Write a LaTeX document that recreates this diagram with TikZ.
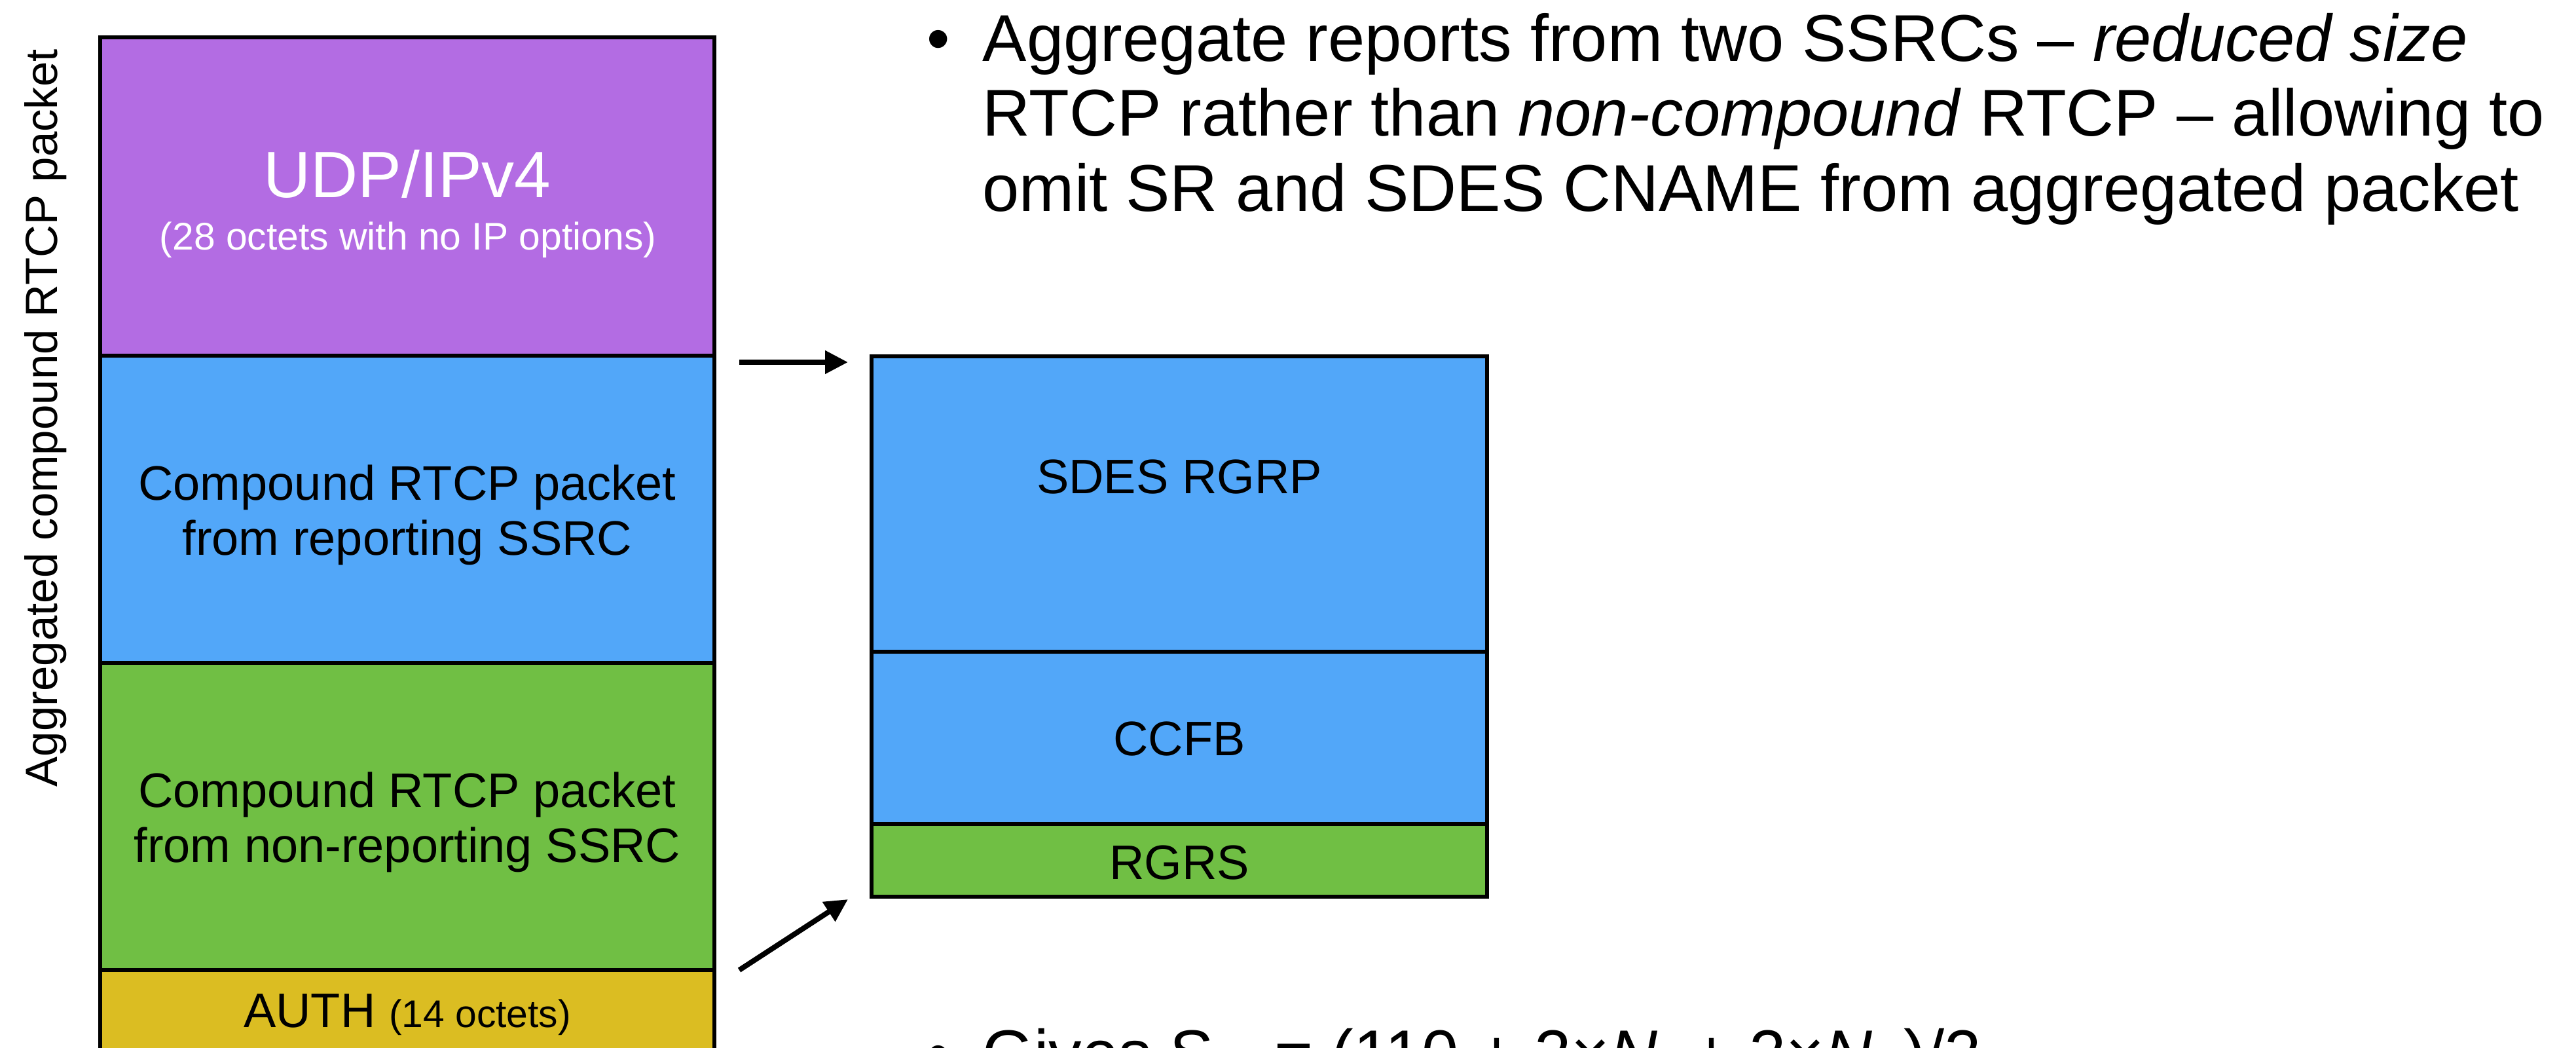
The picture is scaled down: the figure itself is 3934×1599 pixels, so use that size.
\documentclass[tikz,border=0pt]{standalone}
\usepackage{fontspec}
\setmainfont{Liberation Sans}
\usetikzlibrary{arrows.meta}
\definecolor{cpurple}{HTML}{B36CE3}
\definecolor{cblue}{HTML}{52A7F9}
\definecolor{cgreen}{HTML}{70BF44}
\definecolor{cgold}{HTML}{DBBD22}
\begin{document}
\begin{tikzpicture}[x=0.25pt,y=-0.25pt,
  blk/.style={draw=black, line width=1.3pt, inner sep=0pt, outer sep=0pt, anchor=north west, minimum width=234.5pt},
  rblk/.style={blk, minimum width=235pt},
  lbl/.style={inner sep=0pt, anchor=base, font=\fontsize{18.5pt}{21pt}\selectfont},
  small/.style={inner sep=0pt, anchor=base, font=\fontsize{14.7pt}{17pt}\selectfont},
  big/.style={inner sep=0pt, anchor=base west, font=\fontsize{25.25pt}{28.6pt}\selectfont},
  bul/.style={inner sep=0pt, anchor=base, font=\fontsize{25.25pt}{28.6pt}\selectfont},
  arr/.style={-{Triangle[length=8.75pt,width=8.5pt]}, line width=2pt}
]
\path[use as bounding box] (0,0) rectangle (3934,1599);
\clip (0,0) rectangle (3934,1599);
\fill[white] (0,0) rectangle (3934,1599);

% left stack
\node[blk, fill=cpurple, minimum height=121.5pt] (udp) at (153,57) {};
\node[blk, fill=cblue, minimum height=117.25pt] (rep) at (153,543) {};
\node[blk, fill=cgreen, minimum height=117.25pt] (nonrep) at (153,1012) {};
\node[blk, fill=cgold, minimum height=62.5pt] (auth) at (153,1481) {};

\node[inner sep=0pt, anchor=base, text=white, font=\fontsize{25pt}{28pt}\selectfont] (udpt) at (622,301) {UDP/IPv4};
\node[small, text=white] (udps) at (623,381) {(28 octets with no IP options)};
\node[lbl] (rep1) at (622,763) {Compound RTCP packet};
\node[lbl] (rep2) at (622,847) {from reporting SSRC};
\node[lbl] (non1) at (622,1232) {Compound RTCP packet};
\node[lbl] (non2) at (622,1316) {from non-reporting SSRC};
\node[lbl] (autht) at (622,1568) {AUTH {\fontsize{14.7pt}{17pt}\selectfont (14 octets)}};

\node[rotate=90, anchor=base, inner sep=0pt, font=\fontsize{17.25pt}{20pt}\selectfont] (side) at (87,638) {Aggregated compound RTCP packet};

% right stack
\node[rblk, fill=cblue, minimum height=112.75pt] (sdes) at (1331,544) {};
\node[rblk, fill=cblue, minimum height=65.75pt] (ccfb) at (1331,995) {};
\node[rblk, fill=cgreen, minimum height=27.75pt] (rgrs) at (1331,1258) {};
\node[lbl] (sdest) at (1801,753) {SDES RGRP};
\node[lbl] (ccfbt) at (1801,1153) {CCFB};
\node[lbl] (rgrst) at (1801,1342) {RGRS};

% arrows
\coordinate (t1s) at (1129,553);
\coordinate (t1e) at (1295,553);
\coordinate (t2s) at (1129,1481);
\coordinate (t2e) at (1295,1373);
\draw[arr] (t1s) -- (t1e);
\draw[arr] (t2s) -- (t2e);

% bullets
\node[bul] (b1) at (1433,93) {•};
\node[big] (l1) at (1500,93) {Aggregate reports from two SSRCs – \textit{reduced size}};
\node[big] (l2) at (1500,207) {RTCP rather than \textit{non-compound} RTCP – allowing to};
\node[big] (l3) at (1500,322) {omit SR and SDES CNAME from aggregated packet};

\node[bul] (b2) at (1433,1643) {•};
\node[big] (l4) at (1500,1643) {Gives S\hspace{16pt} = (110 + 2×\textit{N}\hspace{6.25pt} + 2×\textit{N}\hspace{12pt})/2};
\end{tikzpicture}
\end{document}
